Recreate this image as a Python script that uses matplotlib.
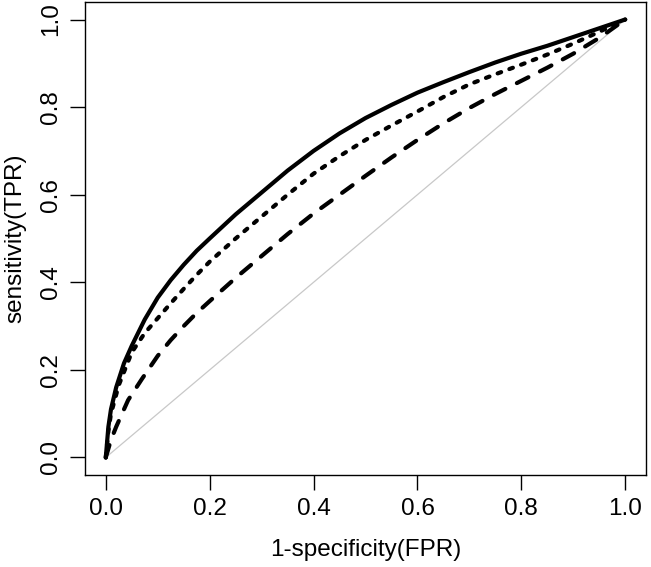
import matplotlib
matplotlib.use("Agg")
import matplotlib.pyplot as plt

# Curvas ROC (FPR, TPR)
fpr_solid = [0.0, 0.005, 0.01, 0.02, 0.035, 0.05, 0.075, 0.1, 0.125, 0.15, 0.175, 0.2, 0.25, 0.3, 0.35,
             0.4, 0.45, 0.5, 0.55, 0.6, 0.65, 0.7, 0.75, 0.8, 0.85, 0.9, 0.95, 1.0]
tpr_solid = [0.0, 0.07, 0.11, 0.16, 0.215, 0.255, 0.315, 0.365, 0.405, 0.44, 0.472, 0.5, 0.555, 0.605, 0.655,
             0.70, 0.74, 0.775, 0.805, 0.833, 0.857, 0.88, 0.902, 0.922, 0.94, 0.96, 0.98, 1.0]

fpr_dot = [0.0, 0.005, 0.01, 0.025, 0.05, 0.075, 0.1, 0.125, 0.15, 0.175, 0.2, 0.25, 0.3, 0.35,
           0.4, 0.45, 0.5, 0.55, 0.6, 0.65, 0.7, 0.75, 0.8, 0.85, 0.9, 0.95, 1.0]
tpr_dot = [0.0, 0.06, 0.1, 0.165, 0.24, 0.284, 0.318, 0.352, 0.385, 0.417, 0.447, 0.5, 0.55, 0.6,
           0.648, 0.688, 0.725, 0.758, 0.79, 0.823, 0.852, 0.875, 0.897, 0.92, 0.945, 0.972, 1.0]

fpr_dash = [0.0, 0.01, 0.02, 0.043, 0.07, 0.1, 0.125, 0.15, 0.175, 0.2, 0.25, 0.3, 0.35,
            0.4, 0.45, 0.5, 0.55, 0.6, 0.65, 0.7, 0.75, 0.8, 0.85, 0.9, 0.95, 1.0]
tpr_dash = [0.0, 0.04, 0.07, 0.131, 0.18, 0.232, 0.268, 0.3, 0.33, 0.357, 0.41, 0.46, 0.51,
            0.557, 0.6, 0.643, 0.685, 0.725, 0.763, 0.798, 0.83, 0.86, 0.89, 0.922, 0.958, 1.0]

ticks = [0.0, 0.2, 0.4, 0.6, 0.8, 1.0]
tick_labels = ["0.0", "0.2", "0.4", "0.6", "0.8", "1.0"]

plt.rcParams['font.family'] = ['Liberation Sans', 'DejaVu Sans']

fig = plt.figure(figsize=(6.51, 5.67), dpi=100)
ax = fig.add_axes([85/651, 92/567, 561/651, 473/567])

# Diagonal de referencia
ax.plot([0, 1], [0, 1], color="#c8c8c8", linewidth=0.9)

ax.plot(fpr_solid, tpr_solid, color="black", linewidth=3, solid_capstyle="round", solid_joinstyle="round")
ax.plot(fpr_dot, tpr_dot, color="black", linewidth=3, linestyle=(0, (0.9, 2.1)), dash_capstyle="round")
ax.plot(fpr_dash, tpr_dash, color="black", linewidth=3, linestyle=(0, (3.1, 3.1)), dash_capstyle="round")

ax.set_xlim(-0.04, 1.04)
ax.set_ylim(-0.04, 1.04)

ax.set_xticks(ticks)
ax.set_xticklabels(tick_labels)
ax.set_yticks(ticks)
ax.set_yticklabels(tick_labels, rotation=90, va="center")
ax.tick_params(axis="both", direction="out", length=10.5, width=1.0, labelsize=17.5, pad=6)

for s in ax.spines.values():
    s.set_linewidth(1.0)

ax.set_xlabel("1-specificity(FPR)", fontsize=17.5, labelpad=14)
ax.set_ylabel("sensitivity(TPR)", fontsize=17.5, labelpad=10)

fig.savefig("out.png", dpi=100)
